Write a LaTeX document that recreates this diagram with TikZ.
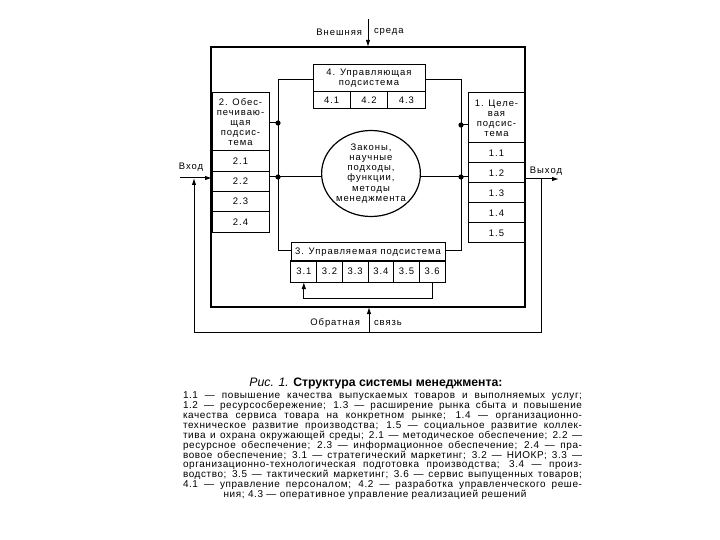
\documentclass[tikz,border=0pt]{standalone}
\usepackage{fontspec}
\setmainfont{Liberation Sans}
\newfontfamily\dfont[LetterSpace=10]{Liberation Sans}
\newfontfamily\cfont[LetterSpace=6]{Liberation Sans}
\usetikzlibrary{arrows.meta,shapes.geometric}
\begin{document}
\begin{tikzpicture}[x=1bp,y=-1bp,
  lbl/.style={font=\dfont\fontsize{9.5}{10}\selectfont, inner sep=0, outer sep=0},
  cellbox/.style={lbl, draw, line width=1bp, align=center},
  conn/.style={line width=1bp},
  arr/.style={conn, -{Latex[length=7bp,width=4.5bp]}},
  dotc/.style={fill=black},
  capline/.style={font=\cfont\fontsize{10}{11}\selectfont, inner sep=0}
]
\useasboundingbox (0,0) rectangle (720,540);
\fill[white] (0,0) rectangle (720,540);

% frame
\node[draw, line width=1.3bp, minimum width=314bp, minimum height=260bp, inner sep=0, outer sep=0] (frame) at (368,177) {};

% box 4
\node[cellbox, minimum width=112bp, minimum height=27bp] (h4) at (369,78.5) {4. Управляющая\\подсистема};
\node[cellbox, minimum width=37.33bp, minimum height=17bp] (c41) at (331.67,100.5) {4.1};
\node[cellbox, minimum width=37.33bp, minimum height=17bp] (c42) at (369,100.5) {4.2};
\node[cellbox, minimum width=37.33bp, minimum height=17bp] (c43) at (406.33,100.5) {4.3};

% box 3
\node[cellbox, minimum width=154bp, minimum height=18bp] (h3) at (368,252) {3. Управляемая подсистема};
\foreach \i/\xx in {1/303.83,2/329.5,3/355.17,4/380.83,5/406.5,6/432.17}
  \node[cellbox, minimum width=25.67bp, minimum height=21bp] (c3\i) at (\xx,271.5) {3.\i};

% box 2
\node[cellbox, minimum width=57bp, minimum height=58bp] (h2) at (240.5,122) {2. Обес-\\печиваю-\\щая\\подсис-\\тема};
\foreach \i/\yy in {1/161.1,2/181.4,3/201.6,4/221.9}
  \node[cellbox, minimum width=57bp, minimum height=20.25bp] (r2\i) at (240.5,\yy) {2.\i};

% box 1
\node[cellbox, minimum width=57bp, minimum height=50bp] (h1) at (496.5,118) {1. Целе-\\вая\\подсис-\\тема};
\foreach \i/\yy in {1/153,2/173,3/193,4/213,5/233}
  \node[cellbox, minimum width=57bp, minimum height=20bp] (r1\i) at (496.5,\yy) {1.\i};

% circle
\node[ellipse, draw, line width=1.2bp, minimum width=98bp, minimum height=86bp, inner sep=0, outer sep=0, align=center, font=\dfont\fontsize{9.5}{10.2}\selectfont] (circ) at (371,173.5) {Законы,\\научные\\подходы,\\функции,\\методы\\менеджмента};

% buses
\coordinate (tl) at (278,80);
\coordinate (bl) at (278,251);
\coordinate (tr) at (461,80);
\coordinate (br) at (461,251);
\draw[conn] (h4.west |- tl) -- (tl) -- (bl) -- (h3.west |- bl);
\draw[conn] (h4.east |- tr) -- (tr) -- (br) -- (h3.east |- br);

\coordinate (dl1) at (278,123);
\coordinate (dl2) at (278,177);
\coordinate (dr1) at (461,125);
\coordinate (dr2) at (461,177);
\draw[conn] (h2.east |- dl1) -- (dl1);
\draw[conn] (r22.east |- dl2) -- (circ.west |- dl2);
\draw[conn] (dr1) -- (h1.west |- dr1);
\draw[conn] (circ.east |- dr2) -- (r12.west |- dr2);
\foreach \d in {dl1,dl2,dr1,dr2} \fill[dotc] (\d) circle (2.6bp);

% input / output
\coordinate (inS) at (180,178);
\draw[arr] (inS) -- (inS -| r22.west);
\node[lbl] (inlbl) at (191,167) {Вход};
\coordinate (outE) at (559,179);
\draw[arr] (r12.east |- outE) -- (outE);
\node[lbl] (outlbl) at (546,171) {Выход};

% outer feedback
\coordinate (fbL) at (194,332);
\coordinate (fbR) at (541,332);
\coordinate (fbM) at (369,332);
\draw[conn] (fbR |- outE) -- (fbR) -- (fbL);
\draw[arr] (fbL) -- (fbL |- inS);
\draw[arr] (fbM) -- (fbM |- frame.south);
\node[lbl, anchor=east] (fbl1) at (360,323) {Обратная};
\node[lbl, anchor=west] (fbl2) at (374,323) {связь};

% environment
\coordinate (envT) at (368,19);
\draw[arr] (envT) -- (frame.north);
\node[lbl, anchor=east] (env1) at (362,32) {Внешняя};
\node[lbl, anchor=west] (env2) at (374,32) {среда};

% inner feedback of box 3
\coordinate (fb3) at (0,298);
\draw[arr] (c36.south) -- (c36.south |- fb3) -- (c31.south |- fb3) -- (c31.south);

% caption
\node[inner sep=0, font=\fontsize{12.3}{13}\selectfont] (title) at (376,383) {\textit{Рис. 1.} \textbf{Структура системы менеджмента:}};
\node[capline] (l1) at (382.5,396) {\makebox[399bp][s]{1.1 — повышение качества выпускаемых товаров и выполняемых услуг;}};
\node[capline] (l2) at (382.5,405.9) {\makebox[399bp][s]{1.2 — ресурсосбережение; 1.3 — расширение рынка сбыта и повышение}};
\node[capline] (l3) at (382.5,415.8) {\makebox[399bp][s]{качества сервиса товара на конкретном рынке; 1.4 — организационно-}};
\node[capline] (l4) at (382.5,425.7) {\makebox[399bp][s]{техническое развитие производства; 1.5 — социальное развитие коллек-}};
\node[capline] (l5) at (382.5,435.6) {\makebox[399bp][s]{тива и охрана окружающей среды; 2.1 — методическое обеспечение; 2.2 —}};
\node[capline] (l6) at (382.5,445.5) {\makebox[399bp][s]{ресурсное обеспечение; 2.3 — информационное обеспечение; 2.4 — пра-}};
\node[capline] (l7) at (382.5,455.4) {\makebox[399bp][s]{вовое обеспечение; 3.1 — стратегический маркетинг; 3.2 — НИОКР; 3.3 —}};
\node[capline] (l8) at (382.5,465.3) {\makebox[399bp][s]{организационно-технологическая подготовка производства; 3.4 — произ-}};
\node[capline] (l9) at (382.5,475.2) {\makebox[399bp][s]{водство; 3.5 — тактический маркетинг; 3.6 — сервис выпущенных товаров;}};
\node[capline] (l10) at (382.5,485.1) {\makebox[399bp][s]{4.1 — управление персоналом; 4.2 — разработка управленческого реше-}};
\node[capline] (l11) at (375,495) {ния; 4.3 — оперативное управление реализацией решений};
\end{tikzpicture}
\end{document}
